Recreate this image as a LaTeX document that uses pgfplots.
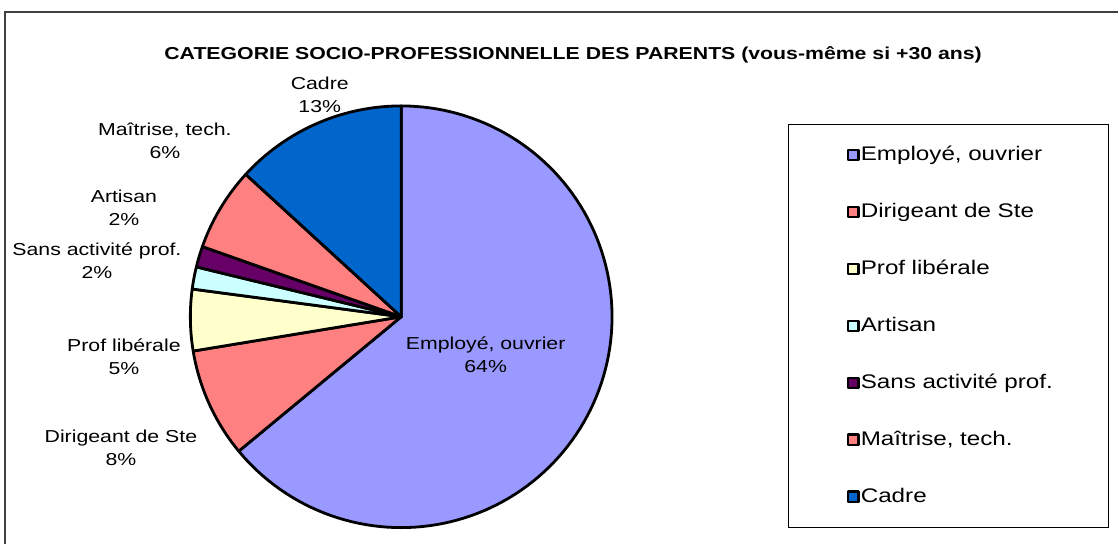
\documentclass[border=0pt]{standalone}
\usepackage{fontspec}
\setmainfont{Liberation Sans}[FakeStretch=1.23]
\usepackage{pgfplots}
\pgfplotsset{compat=1.18}
\definecolor{cEmp}{HTML}{9999FF}
\definecolor{cDir}{HTML}{FF8080}
\definecolor{cPro}{HTML}{FFFFCC}
\definecolor{cArt}{HTML}{CCFFFF}
\definecolor{cSan}{HTML}{660066}
\definecolor{cMai}{HTML}{FF8080}
\definecolor{cCad}{HTML}{0066CC}
% shares (percent)
\def\vEmp{64.0}
\def\vDir{8.4}
\def\vPro{4.7}
\def\vArt{1.7}
\def\vSan{1.6}
\def\vMai{6.4}
\def\vCad{13.2}
\begin{document}
\begin{tikzpicture}
\pgfmathsetmacro\aA{90}
\pgfmathsetmacro\aB{\aA-3.6*\vEmp}
\pgfmathsetmacro\aC{\aB-3.6*\vDir}
\pgfmathsetmacro\aD{\aC-3.6*\vPro}
\pgfmathsetmacro\aE{\aD-3.6*\vArt}
\pgfmathsetmacro\aF{\aE-3.6*\vSan}
\pgfmathsetmacro\aG{\aF-3.6*\vMai}
\pgfmathsetmacro\aH{\aG-3.6*\vCad}
\def\cx{401.5}
\def\cy{227}
\def\rr{211}
\begin{axis}[
  scale only axis, width=1119pt, height=544pt,
  xmin=0, xmax=1119, ymin=0, ymax=544,
  hide axis, clip=false,
  samples=120,
  legend cell align=left,
  legend style={
    at={(789/1119,420/544)}, anchor=north west,
    draw=black, line width=0.8pt, fill=white,
    inner xsep=20pt, inner ysep=19.5pt,
    row sep=35pt, column sep=1pt,
    nodes={inner sep=0pt, text height=17pt, text depth=5pt, text width=228pt, align=left},
    font=\fontsize{19.7}{23}\selectfont,
  },
  legend image code/.code={
    \path[draw=none, fill=none] (0pt,-6pt) rectangle (1pt,6pt);
    \draw[#1, line width=2.4pt] (39.2pt,-5.3pt) rectangle (49.8pt,4.9pt);
  },
  pie/.style={draw=black, line width=2.8pt, line join=round},
]
\path (axis cs:0,0) rectangle (axis cs:1119,544);
\addplot[pie, fill=cEmp, domain=\aB:\aA] ({\cx+\rr*cos(x)},{\cy+\rr*sin(x)}) -- (axis cs:\cx,\cy) -- cycle;
\addlegendentry{Employé, ouvrier}
\addplot[pie, fill=cDir, domain=\aC:\aB] ({\cx+\rr*cos(x)},{\cy+\rr*sin(x)}) -- (axis cs:\cx,\cy) -- cycle;
\addlegendentry{Dirigeant de Ste}
\addplot[pie, fill=cPro, domain=\aD:\aC] ({\cx+\rr*cos(x)},{\cy+\rr*sin(x)}) -- (axis cs:\cx,\cy) -- cycle;
\addlegendentry{Prof libérale}
\addplot[pie, fill=cArt, domain=\aE:\aD] ({\cx+\rr*cos(x)},{\cy+\rr*sin(x)}) -- (axis cs:\cx,\cy) -- cycle;
\addlegendentry{Artisan}
\addplot[pie, fill=cSan, domain=\aF:\aE] ({\cx+\rr*cos(x)},{\cy+\rr*sin(x)}) -- (axis cs:\cx,\cy) -- cycle;
\addlegendentry{Sans activité prof.}
\addplot[pie, fill=cMai, domain=\aG:\aF] ({\cx+\rr*cos(x)},{\cy+\rr*sin(x)}) -- (axis cs:\cx,\cy) -- cycle;
\addlegendentry{Maîtrise, tech.}
\addplot[pie, fill=cCad, domain=\aH:\aG] ({\cx+\rr*cos(x)},{\cy+\rr*sin(x)}) -- (axis cs:\cx,\cy) -- cycle;
\addlegendentry{Cadre}
% outer chart border (partly outside the picture)
\draw[line width=1.6pt, black!75] (axis cs:5,0) -- (axis cs:5,532) -- (axis cs:1119,532);
% title
\node[font=\bfseries\fontsize{17.3}{21}\selectfont, anchor=base] at (axis cs:573.5,484) {CATEGORIE SOCIO-PROFESSIONNELLE DES PARENTS (vous-même si +30 ans)};
% data labels
\begin{scope}[every node/.style={font=\fontsize{17.3}{23}\selectfont, align=center, inner sep=0pt}]
\node at (axis cs:320,449) {Cadre\\13\%};
\node at (axis cs:165,403.5) {Maîtrise, tech.\\6\%};
\node at (axis cs:124,336.5) {Artisan\\2\%};
\node at (axis cs:97,283.5) {Sans activité prof.\\2\%};
\node at (axis cs:124,187) {Prof libérale\\5\%};
\node at (axis cs:121,95.5) {Dirigeant de Ste\\8\%};
\node at (axis cs:486,189) {Employé, ouvrier\\64\%};
\end{scope}
\end{axis}
\end{tikzpicture}
\end{document}
